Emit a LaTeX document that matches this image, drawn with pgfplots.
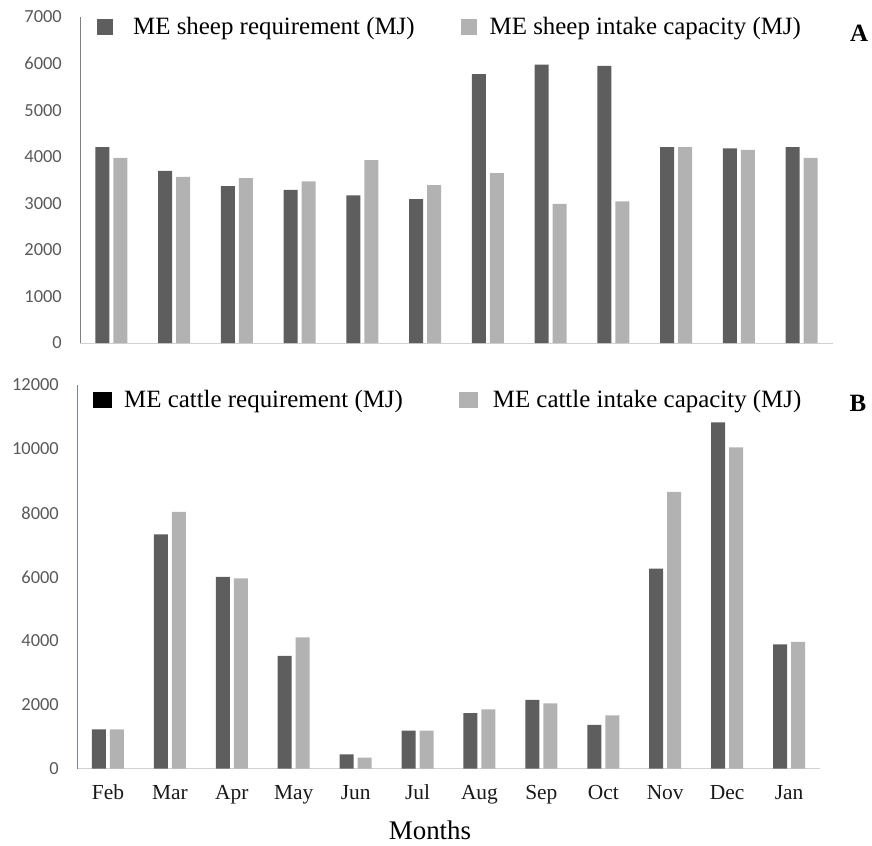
\documentclass[border=0pt]{standalone}
\usepackage{fontspec}
\setmainfont{Liberation Serif}
\newfontfamily\calibri{Carlito}
\usepackage{pgfplots}
\pgfplotsset{compat=1.18}
\definecolor{darkbar}{HTML}{5E5E5E}
\definecolor{lightbar}{HTML}{B2B2B2}
\definecolor{ticktext}{HTML}{595959}
\definecolor{axisB}{HTML}{7A8594}
\begin{document}
\begin{tikzpicture}
\path[use as bounding box] (0bp,0bp) rectangle (872bp,-846bp);
\pgfplotsset{
  panel/.style={
    scale only axis,
    xmin=-0.5, xmax=11.5, ymin=0,
    axis x line=bottom, axis y line=left,
    axis line style={-},
    x axis line style={draw=black!18, line width=0.9bp},
    major tick length=0,
    ybar, bar width=14bp,
    scaled y ticks=false,
    /pgf/number format/assume math mode=true,
    /pgf/number format/1000 sep={},
    yticklabel style={font=\calibri\fontsize{18.5}{18.5}\selectfont, text=ticktext, inner sep=0pt, anchor=east, xshift=-18bp},
    legend style={draw=none, fill=none, font=\fontsize{25}{25}\selectfont, inner sep=0pt},
    legend cell align=left,
    legend columns=2,
  },
}
% Panel A
\begin{axis}[panel, at={(111.4bp,-343bp)}, anchor=origin, width=753bp, height=326bp,
  ymax=7000, ytick={0,1000,...,7000}, xtick=\empty,
  y axis line style={draw=black!50, line width=0.9bp},
  legend style={at={(17bp,326bp)}, anchor=west, yshift=-10bp,
    /tikz/every even column/.append style={column sep=44bp}},
  ]
\addplot+[draw=none, fill=darkbar, bar shift=-9bp, legend image code/.code={\fill[darkbar] (0bp,-8bp) rectangle (16bp,8bp); \path (34bp,0bp);}] coordinates {
(0,4206) (1,3697) (2,3369) (3,3290) (4,3169) (5,3090) (6,5773) (7,5980) (8,5951) (9,4206) (10,4178) (11,4206)};
\addlegendentry{ME sheep requirement (MJ)}
\addplot+[draw=none, fill=lightbar, bar shift=9bp, legend image code/.code={\fill[lightbar] (0bp,-8bp) rectangle (16bp,8bp); \path (27bp,0bp);}] coordinates {
(0,3976) (1,3568) (2,3541) (3,3470) (4,3927) (5,3391) (6,3648) (7,2990) (8,3040) (9,4206) (10,4149) (11,3976)};
\addlegendentry{ME sheep intake capacity (MJ)}
\end{axis}
% Panel B
\begin{axis}[panel, at={(107.96bp,-768.7bp)}, anchor=origin, width=743bp, height=383.7bp,
  ymax=12000, ytick={0,2000,...,12000},
  xtick={0,...,11}, xticklabels={Feb,Mar,Apr,May,Jun,Jul,Aug,Sep,Oct,Nov,Dec,Jan},
  xticklabel style={font=\fontsize{21.5}{21.5}\selectfont, text=black!90, inner sep=0pt, anchor=base, yshift=-31bp},
  y axis line style={draw=axisB, line width=1bp},
  legend style={at={(16bp,383.7bp)}, anchor=west, yshift=-15bp,
    /tikz/every even column/.append style={column sep=54bp}},
  ]
\addplot+[draw=none, fill=darkbar, bar shift=-9bp, legend image code/.code={\fill[black] (0bp,-8bp) rectangle (19bp,8bp); \path (29bp,0bp);}] coordinates {
(0,1232) (1,7331) (2,5996) (3,3525) (4,450) (5,1189) (6,1742) (7,2149) (8,1367) (9,6256) (10,10835) (11,3891)};
\addlegendentry{ME cattle requirement (MJ)}
\addplot+[draw=none, fill=lightbar, bar shift=9bp, legend image code/.code={\fill[lightbar] (0bp,-8bp) rectangle (19bp,8bp); \path (32bp,0bp);}] coordinates {
(0,1232) (1,8029) (2,5955) (3,4110) (4,344) (5,1189) (6,1858) (7,2045) (8,1670) (9,8655) (10,10053) (11,3963)};
\addlegendentry{ME cattle intake capacity (MJ)}
\end{axis}
\node[font=\bfseries\fontsize{25}{25}\selectfont] at (859bp,-33bp) {A};
\node[font=\bfseries\fontsize{25}{25}\selectfont] at (858bp,-403bp) {B};
\node[font=\fontsize{27}{27}\selectfont] at (430bp,-830bp) {Months};
\end{tikzpicture}
\end{document}
